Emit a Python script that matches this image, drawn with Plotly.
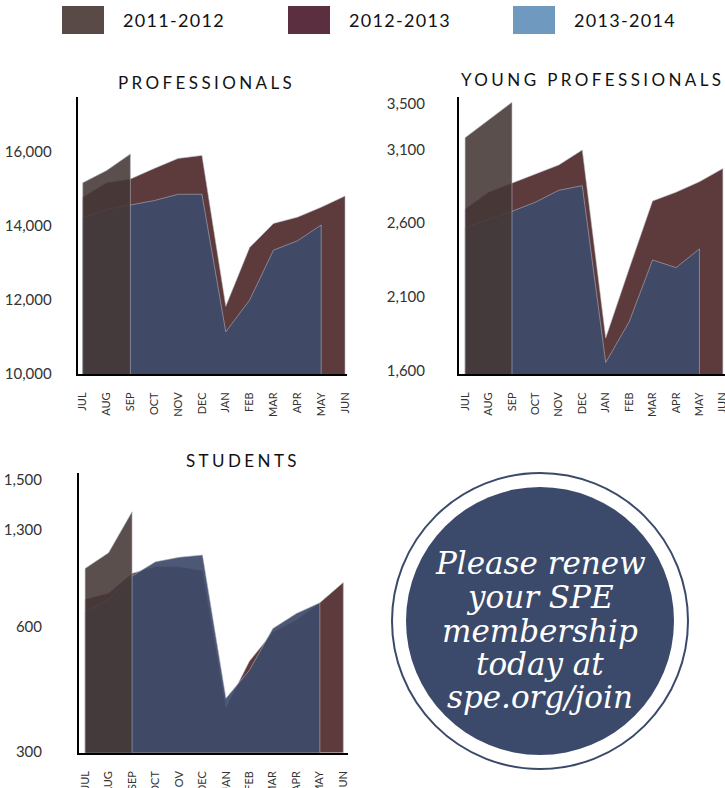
import plotly.graph_objects as go

W, H = 725, 788

# ---------------- data ----------------
MONTHS = ["JUL", "AUG", "SEP", "OCT", "NOV", "DEC", "JAN", "FEB", "MAR", "APR", "MAY", "JUN"]
SEASONS = ["2011-2012", "2012-2013", "2013-2014"]

PRO_2011 = [15170, 15500, 15950]
PRO_2012 = [14780, 15170, 15270, 15560, 15830, 15910, 11830, 13420, 14070, 14240, 14510, 14810]
PRO_2013 = [14230, 14450, 14560, 14690, 14860, 14860, 11140, 12000, 13350, 13600, 14030]
PRO_TICKVALS = [10000, 12000, 14000, 16000]
PRO_TICKTEXT = ["10,000", "12,000", "14,000", "16,000"]

YP_2011 = [3180, 3300, 3420]
YP_2012 = [2696, 2810, 2870, 2932, 2995, 3096, 1820, 2290, 2750, 2810, 2881, 2970]
YP_2013 = [2570, 2627, 2680, 2742, 2823, 2854, 1654, 1930, 2350, 2298, 2425]
YP_TICKVALS = [1600, 2100, 2600, 3100, 3413]
YP_TICKTEXT = ["1,600", "2,100", "2,600", "3,100", "3,500"]

ST_2011 = [1110, 1179, 1360]
ST_2012 = [974, 1000, 1088, 1117, 1117, 1100, 495, 700, 828, 882, 958, 1048]
ST_2013 = [918, 973, 1076, 1139, 1159, 1169, 536, 660, 845, 911, 958]
ST_TICKVALS = [300, 852, 1282, 1500]
ST_TICKTEXT = ["300", "600", "1,300", "1,500"]

PROMO_LINES = ["Please renew", "your SPE", "membership", "today at", "spe.org/join"]

# ---------------- style ----------------
MARO = "rgb(93,59,60)"
NAVY = "rgba(62,75,107,0.93)"
GRAY = "rgba(68,55,53,0.88)"
EDGE = "rgba(185,185,195,0.7)"
LEG_COLORS = ["#5a4a47", "#5c2f40", "#7099c0"]
CIRCLE = "#3b4a6b"
SANS = "Lato"


def fx(x):
    return x / W


def fy(y):
    return 1 - y / H


panels = [
    dict(title="PROFESSIONALS", data=[PRO_2012, PRO_2013, PRO_2011],
         xdom=(77.7, 346.7), ydom=(374, 97), xr=(-0.21, 11.07), yr=(10000, 17490),
         tv=PRO_TICKVALS, tt=PRO_TICKTEXT, standoff=21, txy=(206, 82.5)),
    dict(title="YOUNG PROFESSIONALS", data=[YP_2012, YP_2013, YP_2011],
         xdom=(459, 725), ydom=(374, 97), xr=(-0.26, 11.09), yr=(1576, 3456),
         tv=YP_TICKVALS, tt=YP_TICKTEXT, standoff=29, txy=(592, 79)),
    dict(title="STUDENTS", data=[ST_2012, ST_2013, ST_2011],
         xdom=(79, 348), ydom=(752.7, 473.3), xr=(-0.26, 11.2), yr=(296, 1530),
         tv=ST_TICKVALS, tt=ST_TICKTEXT, standoff=32, txy=(243, 460)),
]

fills = [MARO, NAVY, GRAY]

fig = go.Figure()
annotations = []
shapes = []

for i, p in enumerate(panels):
    sfx = "" if i == 0 else str(i + 1)
    base = p["yr"][0]
    for vals, col in zip(p["data"], fills):
        n = len(vals)
        xs = [0] + list(range(n)) + [n - 1]
        ys = [base] + list(vals) + [base]
        fig.add_trace(go.Scatter(
            x=xs, y=ys, mode="lines", fill="toself", fillcolor=col,
            line=dict(color=EDGE, width=0.8), hoverinfo="skip", showlegend=False,
            xaxis="x" + sfx, yaxis="y" + sfx))
    fig.update_layout(**{
        "xaxis" + sfx: dict(
            domain=[fx(p["xdom"][0]), fx(p["xdom"][1])], range=list(p["xr"]),
            anchor="y" + sfx, tickmode="array", tickvals=list(range(len(MONTHS))),
            ticktext=MONTHS, tickangle=-90, showgrid=False, zeroline=False,
            showline=True, linecolor="#000", linewidth=2, ticks="",
            ticklabelstandoff=12, automargin=False, ticklabeloverflow="allow",
            tickfont=dict(family=SANS, size=11, color="#333")),
        "yaxis" + sfx: dict(
            domain=[fy(p["ydom"][0]), fy(p["ydom"][1])], range=list(p["yr"]),
            anchor="x" + sfx, tickmode="array", tickvals=p["tv"], ticktext=p["tt"],
            showgrid=False, zeroline=False, showline=True, linecolor="#000",
            linewidth=2, ticks="", ticklabelstandoff=p["standoff"], automargin=False,
            tickfont=dict(family=SANS, size=15, color="#333")),
    })
    annotations.append(dict(
        x=fx(p["txy"][0]), y=fy(p["txy"][1]), xref="paper", yref="paper",
        text='<span style="letter-spacing:3.4px">' + p["title"] + "</span>",
        showarrow=False, xanchor="center", yanchor="middle",
        font=dict(family=SANS, size=17, color="#111")))

# legend
leg_boxes = [(62, 104), (288, 330), (513, 555)]
for (x0, x1), col, lab in zip(leg_boxes, LEG_COLORS, SEASONS):
    shapes.append(dict(type="rect", xref="paper", yref="paper",
                       x0=fx(x0), x1=fx(x1), y0=fy(34), y1=fy(6),
                       fillcolor=col, line=dict(width=0)))
    annotations.append(dict(
        x=fx(x1 + 17), y=fy(20), xref="paper", yref="paper",
        text='<span style="letter-spacing:1.3px">' + lab + "</span>",
        showarrow=False, xanchor="left", yanchor="middle",
        font=dict(family=SANS, size=18, color="#111")))

# promo circle
cx, cy = 540, 621
shapes.append(dict(type="circle", xref="paper", yref="paper",
                   x0=fx(cx - 148), x1=fx(cx + 148), y0=fy(cy + 148), y1=fy(cy - 148),
                   fillcolor="white", line=dict(color=CIRCLE, width=2)))
shapes.append(dict(type="circle", xref="paper", yref="paper",
                   x0=fx(cx - 134), x1=fx(cx + 134), y0=fy(cy + 134), y1=fy(cy - 134),
                   fillcolor=CIRCLE, line=dict(width=0)))
line_y = [563, 597, 631, 664, 697]
for txt, yy in zip(PROMO_LINES, line_y):
    annotations.append(dict(
        x=fx(cx), y=fy(yy), xref="paper", yref="paper", text=txt,
        showarrow=False, xanchor="center", yanchor="middle",
        font=dict(family="DejaVu Serif", size=31, color="white", style="italic")))

fig.update_layout(
    width=W, height=H, margin=dict(l=0, r=0, t=0, b=0, pad=0, autoexpand=False),
    paper_bgcolor="white", plot_bgcolor="rgba(0,0,0,0)",
    showlegend=False, annotations=annotations, shapes=shapes,
)

POST = (
    "document.documentElement.style.margin='0px';"
    "document.documentElement.style.overflow='hidden';"
    "document.body.style.margin='0px';"
    "document.body.style.overflow='hidden';"
)

fig.write_html("out.html", config={"displayModeBar": False}, post_script=POST)
